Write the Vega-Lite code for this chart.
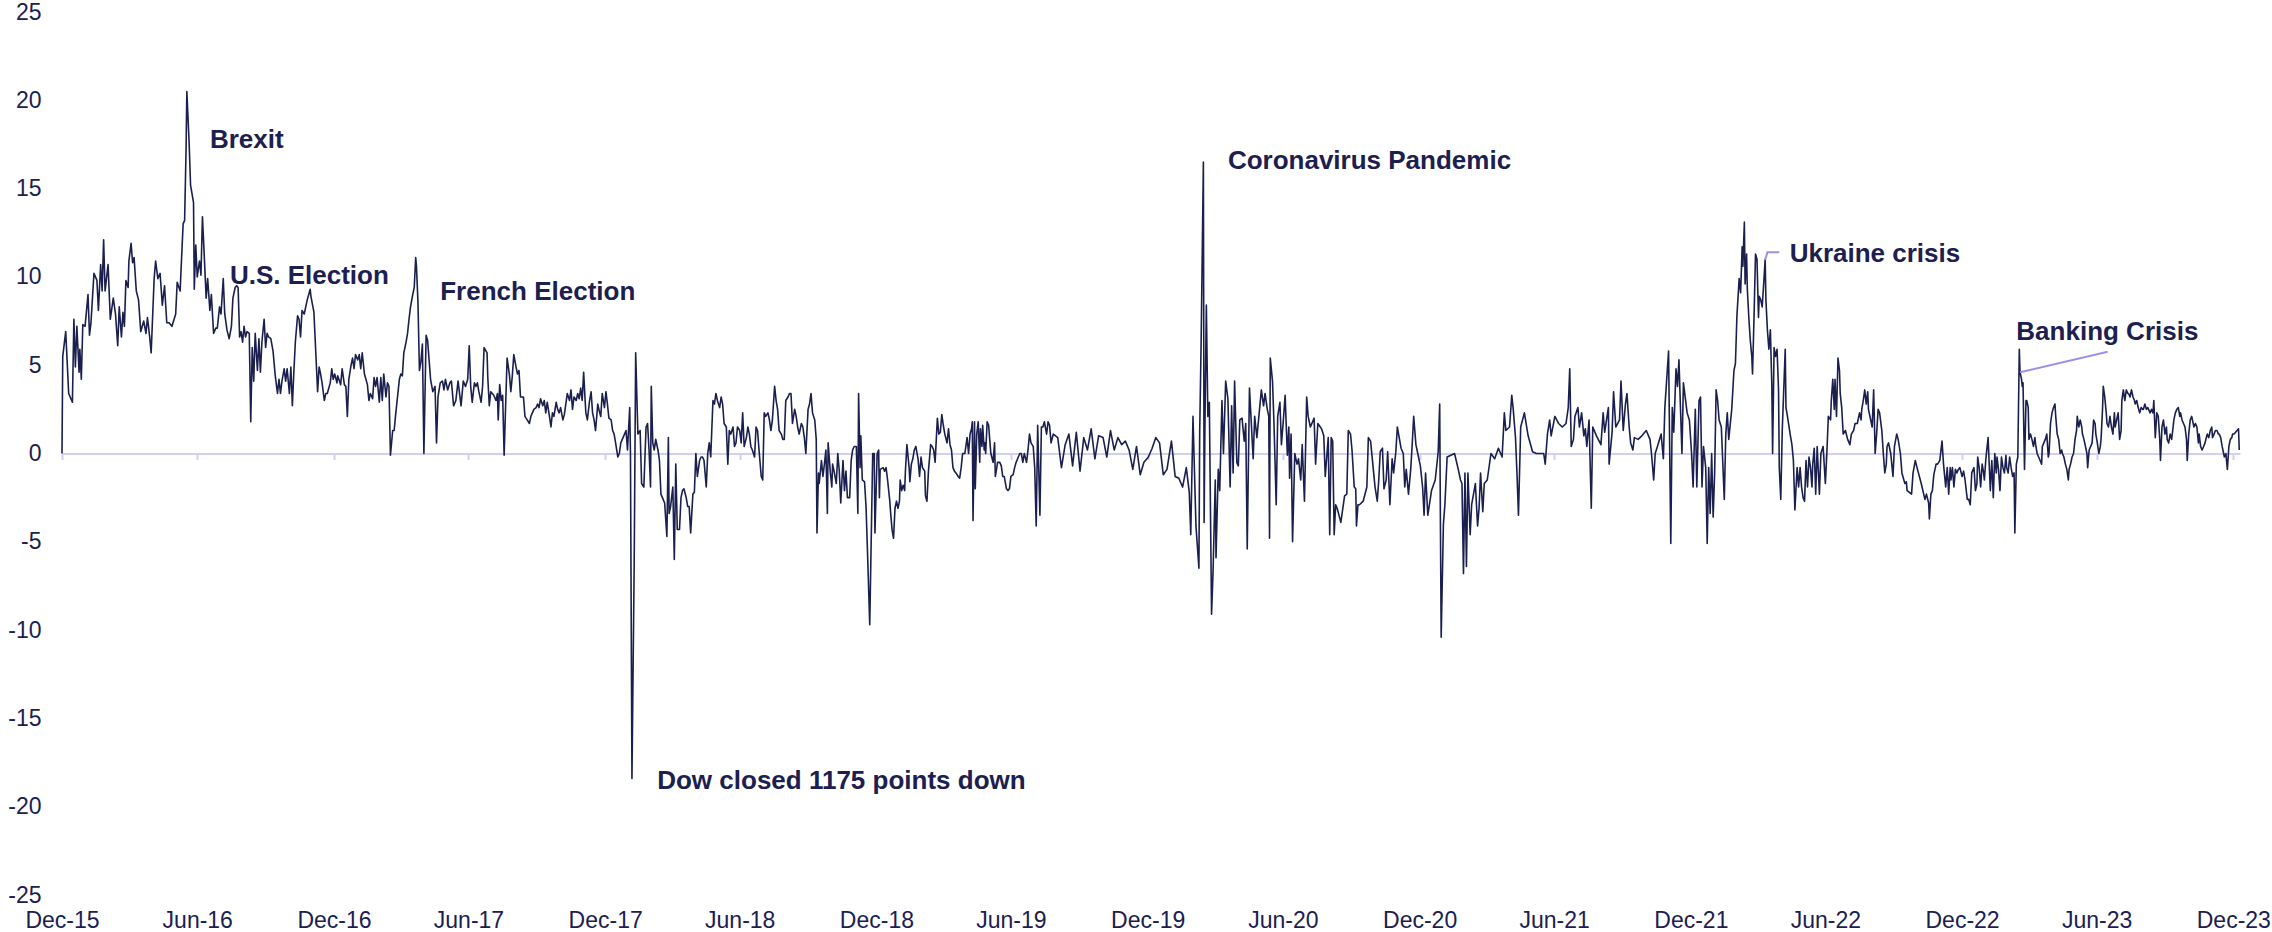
{
"$schema": "https://vega.github.io/schema/vega-lite/v6.json",
"width": 2178, "height": 883,
"autosize": {"type": "none"},
"padding": {"left": 62, "top": 12, "right": 32, "bottom": 37},
"background": "white",
"config": {"view": {"stroke": null}, "font": "Liberation Sans"},
"datasets": {
"series": [
{"d":"2015-12-31","v":0},{"d":"2016-01-01","v":5.5},{"d":"2016-01-05","v":6.9},{"d":"2016-01-09","v":3.4},{"d":"2016-01-14","v":2.9},{"d":"2016-01-16","v":7.6},{"d":"2016-01-18","v":4.9},{"d":"2016-01-20","v":7.2},{"d":"2016-01-23","v":4.6},{"d":"2016-01-24","v":5.9},{"d":"2016-01-26","v":4.2},{"d":"2016-01-28","v":7.3},{"d":"2016-01-31","v":7.2},
{"d":"2016-02-04","v":9.0},{"d":"2016-02-06","v":6.7},{"d":"2016-02-08","v":7.4},{"d":"2016-02-12","v":10.2},{"d":"2016-02-16","v":9.8},{"d":"2016-02-18","v":8.1},{"d":"2016-02-21","v":10.7},{"d":"2016-02-23","v":9.2},{"d":"2016-02-25","v":12.1},{"d":"2016-02-27","v":9.2},
{"d":"2016-03-02","v":10.7},{"d":"2016-03-05","v":7.6},{"d":"2016-03-09","v":8.8},{"d":"2016-03-12","v":7.9},{"d":"2016-03-15","v":6.1},{"d":"2016-03-17","v":8.3},{"d":"2016-03-20","v":6.6},{"d":"2016-03-22","v":8.0},{"d":"2016-03-24","v":7.2},{"d":"2016-03-26","v":9.8},{"d":"2016-03-29","v":9.4},{"d":"2016-03-30","v":10.9},
{"d":"2016-04-02","v":11.9},{"d":"2016-04-04","v":10.8},{"d":"2016-04-06","v":11.1},{"d":"2016-04-09","v":9.2},{"d":"2016-04-12","v":8.7},{"d":"2016-04-15","v":6.9},{"d":"2016-04-19","v":7.5},{"d":"2016-04-22","v":6.8},{"d":"2016-04-24","v":7.7},{"d":"2016-04-27","v":6.6},{"d":"2016-04-29","v":5.7},
{"d":"2016-05-03","v":9.9},{"d":"2016-05-05","v":10.9},{"d":"2016-05-08","v":9.9},{"d":"2016-05-11","v":10.2},{"d":"2016-05-14","v":8.4},{"d":"2016-05-17","v":9.5},{"d":"2016-05-20","v":7.4},{"d":"2016-05-23","v":7.4},{"d":"2016-05-27","v":7.2},
{"d":"2016-06-01","v":7.9},{"d":"2016-06-03","v":9.7},{"d":"2016-06-07","v":9.2},{"d":"2016-06-08","v":10.2},{"d":"2016-06-11","v":13.0},{"d":"2016-06-13","v":13.2},{"d":"2016-06-15","v":17.3},{"d":"2016-06-16","v":20.5},{"d":"2016-06-19","v":17.7},{"d":"2016-06-21","v":15.2},{"d":"2016-06-25","v":14.2},{"d":"2016-06-26","v":9.3},{"d":"2016-06-28","v":11.8},{"d":"2016-06-30","v":10.0},
{"d":"2016-07-03","v":10.9},{"d":"2016-07-05","v":10.1},{"d":"2016-07-07","v":13.4},{"d":"2016-07-09","v":11.6},{"d":"2016-07-12","v":8.8},{"d":"2016-07-14","v":9.9},{"d":"2016-07-17","v":8.1},{"d":"2016-07-19","v":9.0},{"d":"2016-07-22","v":6.8},{"d":"2016-07-25","v":7.1},{"d":"2016-07-27","v":7.1},{"d":"2016-07-30","v":8.3},
{"d":"2016-08-01","v":7.9},{"d":"2016-08-04","v":9.9},{"d":"2016-08-06","v":7.9},{"d":"2016-08-09","v":7.0},{"d":"2016-08-12","v":6.5},{"d":"2016-08-15","v":7.2},{"d":"2016-08-17","v":8.8},{"d":"2016-08-20","v":9.4},{"d":"2016-08-22","v":9.5},{"d":"2016-08-24","v":9.4},{"d":"2016-08-26","v":6.6},{"d":"2016-08-28","v":6.9},{"d":"2016-08-30","v":6.3},
{"d":"2016-09-01","v":7.2},{"d":"2016-09-03","v":6.6},{"d":"2016-09-05","v":6.9},{"d":"2016-09-08","v":6.8},{"d":"2016-09-10","v":1.8},{"d":"2016-09-12","v":6.0},{"d":"2016-09-14","v":4.1},{"d":"2016-09-16","v":6.8},{"d":"2016-09-19","v":4.7},{"d":"2016-09-21","v":6.5},{"d":"2016-09-23","v":4.6},{"d":"2016-09-25","v":6.3},{"d":"2016-09-28","v":7.6},{"d":"2016-09-30","v":6.0},
{"d":"2016-10-02","v":6.8},{"d":"2016-10-04","v":6.6},{"d":"2016-10-07","v":6.5},{"d":"2016-10-10","v":5.8},{"d":"2016-10-13","v":4.4},{"d":"2016-10-16","v":3.4},{"d":"2016-10-18","v":4.2},{"d":"2016-10-20","v":3.4},{"d":"2016-10-22","v":4.1},{"d":"2016-10-25","v":4.8},{"d":"2016-10-27","v":4.1},{"d":"2016-10-29","v":4.8},
{"d":"2016-11-01","v":3.4},{"d":"2016-11-03","v":4.9},{"d":"2016-11-05","v":2.7},{"d":"2016-11-07","v":4.6},{"d":"2016-11-09","v":6.3},{"d":"2016-11-12","v":7.8},{"d":"2016-11-14","v":7.6},{"d":"2016-11-16","v":6.6},{"d":"2016-11-18","v":8.1},{"d":"2016-11-21","v":7.9},{"d":"2016-11-23","v":8.3},{"d":"2016-11-25","v":8.7},{"d":"2016-11-29","v":9.3},{"d":"2016-11-30","v":8.9},
{"d":"2016-12-04","v":8.0},{"d":"2016-12-09","v":3.5},{"d":"2016-12-11","v":4.9},{"d":"2016-12-13","v":4.5},{"d":"2016-12-15","v":4.0},{"d":"2016-12-18","v":3.0},{"d":"2016-12-20","v":3.4},{"d":"2016-12-22","v":3.4},{"d":"2016-12-26","v":4.0},{"d":"2016-12-28","v":4.8},{"d":"2016-12-30","v":4.2},
{"d":"2017-01-01","v":4.5},{"d":"2017-01-04","v":4.0},{"d":"2017-01-05","v":4.4},{"d":"2017-01-09","v":3.9},{"d":"2017-01-11","v":4.8},{"d":"2017-01-14","v":3.9},{"d":"2017-01-16","v":3.8},{"d":"2017-01-18","v":2.1},{"d":"2017-01-20","v":4.2},{"d":"2017-01-23","v":5.0},{"d":"2017-01-25","v":5.4},{"d":"2017-01-27","v":4.8},{"d":"2017-01-29","v":5.6},
{"d":"2017-02-01","v":5.3},{"d":"2017-02-03","v":5.6},{"d":"2017-02-05","v":4.8},{"d":"2017-02-07","v":5.7},{"d":"2017-02-10","v":4.5},{"d":"2017-02-12","v":4.2},{"d":"2017-02-14","v":3.9},{"d":"2017-02-16","v":3.0},{"d":"2017-02-18","v":3.4},{"d":"2017-02-21","v":3.1},{"d":"2017-02-23","v":4.3},{"d":"2017-02-25","v":3.8},{"d":"2017-02-27","v":4.3},
{"d":"2017-03-02","v":2.9},{"d":"2017-03-04","v":4.3},{"d":"2017-03-06","v":3.0},{"d":"2017-03-08","v":4.5},{"d":"2017-03-11","v":3.2},{"d":"2017-03-13","v":4.0},{"d":"2017-03-15","v":3.8},{"d":"2017-03-17","v":-0.1},{"d":"2017-03-20","v":1.3},{"d":"2017-03-22","v":1.3},{"d":"2017-03-24","v":2.2},{"d":"2017-03-26","v":3.0},{"d":"2017-03-29","v":4.2},{"d":"2017-03-31","v":4.5},
{"d":"2017-04-02","v":4.4},{"d":"2017-04-04","v":5.7},{"d":"2017-04-07","v":6.3},{"d":"2017-04-09","v":6.8},{"d":"2017-04-11","v":7.6},{"d":"2017-04-13","v":8.3},{"d":"2017-04-16","v":9.0},{"d":"2017-04-18","v":9.4},{"d":"2017-04-20","v":11.1},{"d":"2017-04-21","v":10.6},{"d":"2017-04-23","v":8.6},{"d":"2017-04-25","v":4.7},{"d":"2017-04-27","v":5.2},{"d":"2017-04-29","v":6.2},
{"d":"2017-05-01","v":0.0},{"d":"2017-05-04","v":6.7},{"d":"2017-05-06","v":6.4},{"d":"2017-05-10","v":4.2},{"d":"2017-05-13","v":3.5},{"d":"2017-05-16","v":3.8},{"d":"2017-05-18","v":0.6},{"d":"2017-05-20","v":3.2},{"d":"2017-05-23","v":4.0},{"d":"2017-05-26","v":4.1},{"d":"2017-05-28","v":3.6},{"d":"2017-05-30","v":4.2},
{"d":"2017-06-02","v":3.6},{"d":"2017-06-05","v":4.0},{"d":"2017-06-07","v":4.1},{"d":"2017-06-10","v":2.7},{"d":"2017-06-13","v":3.0},{"d":"2017-06-16","v":4.1},{"d":"2017-06-20","v":2.7},{"d":"2017-06-23","v":4.1},{"d":"2017-06-26","v":3.8},{"d":"2017-06-29","v":4.2},
{"d":"2017-07-01","v":6.1},{"d":"2017-07-03","v":3.8},{"d":"2017-07-05","v":2.9},{"d":"2017-07-08","v":4.0},{"d":"2017-07-10","v":3.8},{"d":"2017-07-12","v":4.0},{"d":"2017-07-14","v":3.5},{"d":"2017-07-17","v":2.9},{"d":"2017-07-19","v":3.8},{"d":"2017-07-21","v":6.0},{"d":"2017-07-25","v":5.7},{"d":"2017-07-26","v":4.3},{"d":"2017-07-28","v":2.7},{"d":"2017-07-30","v":3.5},
{"d":"2017-08-01","v":3.4},{"d":"2017-08-03","v":3.3},{"d":"2017-08-06","v":3.0},{"d":"2017-08-08","v":3.4},{"d":"2017-08-09","v":1.9},{"d":"2017-08-11","v":3.9},{"d":"2017-08-13","v":3.0},{"d":"2017-08-15","v":3.3},{"d":"2017-08-17","v":-0.1},{"d":"2017-08-19","v":2.7},{"d":"2017-08-21","v":5.4},{"d":"2017-08-24","v":4.5},{"d":"2017-08-26","v":3.5},{"d":"2017-08-28","v":4.4},{"d":"2017-08-30","v":5.6},
{"d":"2017-09-02","v":4.9},{"d":"2017-09-04","v":4.5},{"d":"2017-09-06","v":4.7},{"d":"2017-09-08","v":3.2},{"d":"2017-09-12","v":3.2},{"d":"2017-09-14","v":2.1},{"d":"2017-09-17","v":1.9},{"d":"2017-09-20","v":1.7},{"d":"2017-09-22","v":2.1},{"d":"2017-09-24","v":2.3},{"d":"2017-09-26","v":2.5},{"d":"2017-09-29","v":2.6},
{"d":"2017-10-01","v":2.8},{"d":"2017-10-03","v":2.6},{"d":"2017-10-05","v":3.1},{"d":"2017-10-08","v":2.7},{"d":"2017-10-10","v":3.0},{"d":"2017-10-12","v":2.3},{"d":"2017-10-14","v":2.9},{"d":"2017-10-17","v":2.1},{"d":"2017-10-19","v":1.5},{"d":"2017-10-21","v":2.3},{"d":"2017-10-23","v":2.1},{"d":"2017-10-26","v":2.9},{"d":"2017-10-28","v":2.5},{"d":"2017-10-30","v":2.3},
{"d":"2017-11-01","v":2.6},{"d":"2017-11-04","v":1.9},{"d":"2017-11-06","v":2.2},{"d":"2017-11-08","v":2.8},{"d":"2017-11-10","v":3.4},{"d":"2017-11-13","v":3.0},{"d":"2017-11-15","v":3.6},{"d":"2017-11-17","v":2.5},{"d":"2017-11-19","v":3.2},{"d":"2017-11-22","v":3.0},{"d":"2017-11-24","v":3.4},{"d":"2017-11-26","v":3.1},{"d":"2017-11-28","v":3.7},{"d":"2017-11-30","v":3.0},
{"d":"2017-12-02","v":4.6},{"d":"2017-12-04","v":3.0},{"d":"2017-12-05","v":2.3},{"d":"2017-12-07","v":1.9},{"d":"2017-12-10","v":3.0},{"d":"2017-12-12","v":3.5},{"d":"2017-12-14","v":2.3},{"d":"2017-12-16","v":1.9},{"d":"2017-12-18","v":1.3},{"d":"2017-12-21","v":2.8},{"d":"2017-12-23","v":2.4},{"d":"2017-12-25","v":2.1},{"d":"2017-12-27","v":3.4},{"d":"2017-12-30","v":2.6},
{"d":"2018-01-01","v":3.5},{"d":"2018-01-03","v":2.8},{"d":"2018-01-05","v":2.0},{"d":"2018-01-08","v":1.9},{"d":"2018-01-10","v":1.3},{"d":"2018-01-12","v":1.1},{"d":"2018-01-14","v":0.6},{"d":"2018-01-17","v":-0.2},{"d":"2018-01-19","v":0.0},{"d":"2018-01-21","v":0.6},{"d":"2018-01-23","v":0.8},{"d":"2018-01-26","v":1.1},{"d":"2018-01-28","v":1.3},{"d":"2018-01-30","v":0.2},
{"d":"2018-02-02","v":2.6},{"d":"2018-02-03","v":0.0},{"d":"2018-02-05","v":-18.4},{"d":"2018-02-08","v":-6.3},{"d":"2018-02-10","v":5.7},{"d":"2018-02-13","v":1.1},{"d":"2018-02-16","v":1.3},{"d":"2018-02-18","v":-1.7},{"d":"2018-02-21","v":-1.9},{"d":"2018-02-24","v":1.5},{"d":"2018-02-26","v":1.7},{"d":"2018-02-28","v":0.2},
{"d":"2018-03-02","v":-1.9},{"d":"2018-03-03","v":3.8},{"d":"2018-03-05","v":0.6},{"d":"2018-03-07","v":0.2},{"d":"2018-03-09","v":0.8},{"d":"2018-03-12","v":0.2},{"d":"2018-03-14","v":-0.4},{"d":"2018-03-16","v":-2.3},{"d":"2018-03-18","v":-2.5},{"d":"2018-03-21","v":-2.8},{"d":"2018-03-24","v":-4.7},{"d":"2018-03-26","v":0.9},{"d":"2018-03-27","v":-3.4},{"d":"2018-03-29","v":-3.0},
{"d":"2018-04-01","v":-1.9},{"d":"2018-04-03","v":-6.0},{"d":"2018-04-05","v":-0.6},{"d":"2018-04-07","v":-4.3},{"d":"2018-04-10","v":-4.3},{"d":"2018-04-12","v":-2.5},{"d":"2018-04-14","v":-2.1},{"d":"2018-04-16","v":-2.0},{"d":"2018-04-19","v":-2.5},{"d":"2018-04-21","v":-3.0},{"d":"2018-04-23","v":-3.0},{"d":"2018-04-25","v":-4.5},{"d":"2018-04-28","v":-2.3},{"d":"2018-04-30","v":-2.2},
{"d":"2018-05-02","v":0.0},{"d":"2018-05-04","v":-1.3},{"d":"2018-05-07","v":-0.4},{"d":"2018-05-09","v":-0.2},{"d":"2018-05-11","v":-0.2},{"d":"2018-05-13","v":-0.4},{"d":"2018-05-16","v":-1.9},{"d":"2018-05-18","v":0.0},{"d":"2018-05-20","v":0.6},{"d":"2018-05-22","v":-0.2},{"d":"2018-05-25","v":3.0},{"d":"2018-05-27","v":2.8},{"d":"2018-05-29","v":3.4},{"d":"2018-05-31","v":3.0},
{"d":"2018-06-03","v":2.6},{"d":"2018-06-05","v":3.2},{"d":"2018-06-07","v":2.8},{"d":"2018-06-09","v":1.7},{"d":"2018-06-12","v":1.5},{"d":"2018-06-14","v":-0.6},{"d":"2018-06-16","v":1.3},{"d":"2018-06-18","v":1.1},{"d":"2018-06-21","v":1.5},{"d":"2018-06-23","v":0.4},{"d":"2018-06-25","v":0.6},{"d":"2018-06-27","v":1.5},{"d":"2018-06-30","v":1.3},
{"d":"2018-07-02","v":0.6},{"d":"2018-07-04","v":2.3},{"d":"2018-07-06","v":0.4},{"d":"2018-07-09","v":0.9},{"d":"2018-07-11","v":1.5},{"d":"2018-07-13","v":1.1},{"d":"2018-07-15","v":0.4},{"d":"2018-07-17","v":0.2},{"d":"2018-07-20","v":-0.2},{"d":"2018-07-22","v":1.5},{"d":"2018-07-24","v":1.3},{"d":"2018-07-26","v":0.2},{"d":"2018-07-29","v":-1.3},{"d":"2018-07-31","v":-1.5},
{"d":"2018-08-02","v":2.3},{"d":"2018-08-04","v":2.1},{"d":"2018-08-07","v":2.3},{"d":"2018-08-09","v":1.9},{"d":"2018-08-11","v":1.3},{"d":"2018-08-13","v":1.9},{"d":"2018-08-16","v":3.8},{"d":"2018-08-18","v":3.0},{"d":"2018-08-20","v":2.5},{"d":"2018-08-22","v":1.3},{"d":"2018-08-25","v":1.1},{"d":"2018-08-27","v":0.8},{"d":"2018-08-29","v":0.8},{"d":"2018-08-31","v":3.0},
{"d":"2018-09-03","v":3.2},{"d":"2018-09-05","v":3.4},{"d":"2018-09-07","v":3.4},{"d":"2018-09-09","v":1.7},{"d":"2018-09-12","v":2.5},{"d":"2018-09-14","v":2.1},{"d":"2018-09-16","v":1.5},{"d":"2018-09-18","v":1.1},{"d":"2018-09-21","v":1.7},{"d":"2018-09-23","v":1.5},{"d":"2018-09-25","v":0.9},{"d":"2018-09-27","v":0.0},{"d":"2018-09-30","v":2.5},
{"d":"2018-10-02","v":2.8},{"d":"2018-10-04","v":3.4},{"d":"2018-10-06","v":2.3},{"d":"2018-10-09","v":1.9},{"d":"2018-10-11","v":0.8},{"d":"2018-10-12","v":-4.5},{"d":"2018-10-14","v":-1.1},{"d":"2018-10-15","v":-1.7},{"d":"2018-10-18","v":-0.4},{"d":"2018-10-20","v":-1.3},{"d":"2018-10-22","v":-0.6},{"d":"2018-10-24","v":0.2},{"d":"2018-10-26","v":-3.4},{"d":"2018-10-27","v":0.6},{"d":"2018-10-30","v":-1.1},
{"d":"2018-11-01","v":-1.9},{"d":"2018-11-02","v":-0.6},{"d":"2018-11-04","v":-1.0},{"d":"2018-11-07","v":-1.7},{"d":"2018-11-09","v":0.0},{"d":"2018-11-11","v":-1.0},{"d":"2018-11-13","v":-2.8},{"d":"2018-11-16","v":-0.4},{"d":"2018-11-18","v":-2.1},{"d":"2018-11-20","v":-1.0},{"d":"2018-11-22","v":-2.5},{"d":"2018-11-25","v":-2.5},{"d":"2018-11-27","v":-0.4},{"d":"2018-11-29","v":0.2},
{"d":"2018-12-01","v":0.4},{"d":"2018-12-04","v":0.4},{"d":"2018-12-06","v":-3.4},{"d":"2018-12-07","v":3.4},{"d":"2018-12-09","v":-0.8},{"d":"2018-12-10","v":1.0},{"d":"2018-12-12","v":-1.5},{"d":"2018-12-15","v":-1.6},{"d":"2018-12-17","v":-3.0},{"d":"2018-12-19","v":-5.6},{"d":"2018-12-22","v":-9.7},{"d":"2018-12-26","v":0.0},{"d":"2018-12-28","v":0.0},{"d":"2018-12-29","v":-4.5},
{"d":"2019-01-01","v":0.0},{"d":"2019-01-03","v":0.2},{"d":"2019-01-04","v":-2.5},{"d":"2019-01-05","v":-0.9},{"d":"2019-01-09","v":-0.8},{"d":"2019-01-11","v":-1.0},{"d":"2019-01-13","v":-0.8},{"d":"2019-01-15","v":-1.5},{"d":"2019-01-18","v":-2.7},{"d":"2019-01-19","v":-3.3},{"d":"2019-01-21","v":-4.3},{"d":"2019-01-23","v":-4.8},{"d":"2019-01-25","v":-3.1},{"d":"2019-01-27","v":-2.7},{"d":"2019-01-29","v":-3.1},{"d":"2019-01-31","v":-2.7},
{"d":"2019-02-01","v":-1.5},{"d":"2019-02-03","v":-2.1},{"d":"2019-02-05","v":-1.8},{"d":"2019-02-07","v":-2.1},{"d":"2019-02-08","v":-1.0},{"d":"2019-02-10","v":0.5},{"d":"2019-02-13","v":-0.8},{"d":"2019-02-14","v":-1.6},{"d":"2019-02-16","v":-0.6},{"d":"2019-02-18","v":-0.3},{"d":"2019-02-20","v":0.2},{"d":"2019-02-22","v":0.4},{"d":"2019-02-25","v":-0.3},{"d":"2019-02-27","v":-1.3},
{"d":"2019-03-01","v":-0.2},{"d":"2019-03-03","v":-0.8},{"d":"2019-03-06","v":-1.0},{"d":"2019-03-07","v":-2.4},{"d":"2019-03-09","v":-2.7},{"d":"2019-03-11","v":-1.0},{"d":"2019-03-14","v":0.5},{"d":"2019-03-16","v":0.4},{"d":"2019-03-18","v":0.2},{"d":"2019-03-20","v":-0.5},{"d":"2019-03-23","v":2.0},{"d":"2019-03-25","v":1.1},{"d":"2019-03-27","v":1.2},{"d":"2019-03-29","v":2.2},{"d":"2019-03-31","v":1.6},
{"d":"2019-04-02","v":1.1},{"d":"2019-04-05","v":0.6},{"d":"2019-04-07","v":1.4},{"d":"2019-04-09","v":0.5},{"d":"2019-04-11","v":0.2},{"d":"2019-04-13","v":-0.8},{"d":"2019-04-15","v":-1.0},{"d":"2019-04-17","v":-1.1},{"d":"2019-04-20","v":-1.3},{"d":"2019-04-22","v":-1.4},{"d":"2019-04-24","v":-0.8},{"d":"2019-04-26","v":0.0},{"d":"2019-04-29","v":0.0},
{"d":"2019-05-02","v":0.9},{"d":"2019-05-04","v":0.0},{"d":"2019-05-06","v":1.1},{"d":"2019-05-08","v":1.4},{"d":"2019-05-09","v":1.8},{"d":"2019-05-10","v":-3.8},{"d":"2019-05-12","v":1.8},{"d":"2019-05-13","v":-2.0},{"d":"2019-05-15","v":1.1},{"d":"2019-05-17","v":1.8},{"d":"2019-05-19","v":-0.5},{"d":"2019-05-20","v":1.4},{"d":"2019-05-22","v":0.4},{"d":"2019-05-23","v":1.6},{"d":"2019-05-25","v":0.2},{"d":"2019-05-26","v":0.6},{"d":"2019-05-27","v":0.0},{"d":"2019-05-29","v":1.8},{"d":"2019-05-31","v":1.6},
{"d":"2019-06-02","v":0.5},{"d":"2019-06-03","v":0.0},{"d":"2019-06-06","v":-0.5},{"d":"2019-06-08","v":0.6},{"d":"2019-06-09","v":-1.3},{"d":"2019-06-11","v":-0.8},{"d":"2019-06-12","v":-0.5},{"d":"2019-06-15","v":-0.5},{"d":"2019-06-17","v":-0.7},{"d":"2019-06-19","v":-1.3},{"d":"2019-06-21","v":-1.3},{"d":"2019-06-24","v":-2.0},{"d":"2019-06-26","v":-2.1},{"d":"2019-06-28","v":-2.0},{"d":"2019-06-30","v":-1.3},
{"d":"2019-07-03","v":-1.2},{"d":"2019-07-05","v":-0.8},{"d":"2019-07-07","v":-0.5},{"d":"2019-07-09","v":-0.3},{"d":"2019-07-12","v":0.0},{"d":"2019-07-14","v":0.0},{"d":"2019-07-16","v":-0.5},{"d":"2019-07-18","v":0.0},{"d":"2019-07-21","v":-0.5},{"d":"2019-07-23","v":0.2},{"d":"2019-07-25","v":1.1},{"d":"2019-07-27","v":0.6},{"d":"2019-07-30","v":0.4},
{"d":"2019-08-01","v":-0.8},{"d":"2019-08-03","v":-4.1},{"d":"2019-08-05","v":1.6},{"d":"2019-08-08","v":-3.5},{"d":"2019-08-10","v":1.5},{"d":"2019-08-12","v":1.5},{"d":"2019-08-14","v":1.8},{"d":"2019-08-17","v":1.1},{"d":"2019-08-19","v":1.8},{"d":"2019-08-21","v":1.6},{"d":"2019-08-23","v":0.6},{"d":"2019-08-26","v":1.1},
{"d":"2019-09-01","v":0.9},{"d":"2019-09-06","v":-0.8},{"d":"2019-09-11","v":0.5},{"d":"2019-09-16","v":1.1},{"d":"2019-09-21","v":-0.7},{"d":"2019-09-26","v":1.2},
{"d":"2019-10-01","v":-1.0},{"d":"2019-10-06","v":0.9},{"d":"2019-10-11","v":0.2},{"d":"2019-10-16","v":1.4},{"d":"2019-10-21","v":-0.3},{"d":"2019-10-26","v":1.0},
{"d":"2019-11-01","v":0.9},{"d":"2019-11-06","v":-0.2},{"d":"2019-11-11","v":1.3},{"d":"2019-11-16","v":0.2},{"d":"2019-11-21","v":0.9},{"d":"2019-11-26","v":0.5},
{"d":"2019-12-01","v":0.7},{"d":"2019-12-06","v":0.2},{"d":"2019-12-11","v":-0.9},{"d":"2019-12-16","v":0.4},{"d":"2019-12-21","v":-1.2},{"d":"2019-12-26","v":-0.5},
{"d":"2020-01-01","v":-0.2},{"d":"2020-01-06","v":0.3},{"d":"2020-01-11","v":0.9},{"d":"2020-01-16","v":0.6},{"d":"2020-01-21","v":-1.2},{"d":"2020-01-26","v":-0.9},
{"d":"2020-02-01","v":0.7},{"d":"2020-02-06","v":-1.3},{"d":"2020-02-11","v":-1.4},{"d":"2020-02-16","v":-1.9},{"d":"2020-02-21","v":-0.8},{"d":"2020-02-25","v":-2.2},{"d":"2020-02-27","v":-4.6},
{"d":"2020-03-01","v":2.1},{"d":"2020-03-05","v":-4.1},{"d":"2020-03-09","v":-6.5},{"d":"2020-03-10","v":1.1},{"d":"2020-03-12","v":6.4},{"d":"2020-03-15","v":16.5},{"d":"2020-03-16","v":-3.9},{"d":"2020-03-17","v":1.3},{"d":"2020-03-19","v":8.4},{"d":"2020-03-21","v":2.1},{"d":"2020-03-23","v":2.9},{"d":"2020-03-26","v":-9.1},{"d":"2020-03-28","v":-6.7},{"d":"2020-03-31","v":-1.5},
{"d":"2020-04-01","v":-5.9},{"d":"2020-04-04","v":-0.9},{"d":"2020-04-06","v":-2.1},{"d":"2020-04-09","v":3.0},{"d":"2020-04-11","v":0.0},{"d":"2020-04-14","v":4.1},{"d":"2020-04-17","v":3.1},{"d":"2020-04-20","v":-1.9},{"d":"2020-04-22","v":2.7},{"d":"2020-04-24","v":-1.1},{"d":"2020-04-26","v":4.1},{"d":"2020-04-29","v":-0.5},
{"d":"2020-05-01","v":-0.7},{"d":"2020-05-03","v":1.9},{"d":"2020-05-06","v":2.0},{"d":"2020-05-09","v":0.7},{"d":"2020-05-11","v":1.7},{"d":"2020-05-13","v":-5.4},{"d":"2020-05-16","v":3.7},{"d":"2020-05-18","v":2.1},{"d":"2020-05-21","v":-0.3},{"d":"2020-05-23","v":2.1},{"d":"2020-05-26","v":0.9},
{"d":"2020-06-01","v":3.6},{"d":"2020-06-04","v":2.7},{"d":"2020-06-06","v":3.4},{"d":"2020-06-09","v":2.5},{"d":"2020-06-11","v":2.1},{"d":"2020-06-12","v":-4.8},{"d":"2020-06-13","v":5.4},{"d":"2020-06-16","v":4.1},{"d":"2020-06-18","v":1.7},{"d":"2020-06-21","v":-2.9},{"d":"2020-06-23","v":2.1},{"d":"2020-06-26","v":2.9},{"d":"2020-06-28","v":0.5},
{"d":"2020-07-01","v":2.1},{"d":"2020-07-03","v":3.3},{"d":"2020-07-06","v":-0.1},{"d":"2020-07-08","v":1.5},{"d":"2020-07-09","v":-1.4},{"d":"2020-07-11","v":1.1},{"d":"2020-07-13","v":-5.0},{"d":"2020-07-16","v":0.0},{"d":"2020-07-19","v":-0.6},{"d":"2020-07-21","v":-0.3},{"d":"2020-07-24","v":-1.5},{"d":"2020-07-26","v":0.5},{"d":"2020-07-29","v":-2.7},
{"d":"2020-08-01","v":3.2},{"d":"2020-08-03","v":2.1},{"d":"2020-08-06","v":1.5},{"d":"2020-08-11","v":2.0},{"d":"2020-08-13","v":-0.6},{"d":"2020-08-16","v":1.7},{"d":"2020-08-21","v":1.4},{"d":"2020-08-24","v":1.0},{"d":"2020-08-26","v":-1.3},{"d":"2020-08-30","v":0.9},
{"d":"2020-09-01","v":-4.6},{"d":"2020-09-03","v":0.9},{"d":"2020-09-05","v":0.7},{"d":"2020-09-07","v":-4.6},{"d":"2020-09-09","v":-2.9},{"d":"2020-09-11","v":-3.1},{"d":"2020-09-16","v":-3.9},{"d":"2020-09-21","v":-2.4},{"d":"2020-09-24","v":-2.3},{"d":"2020-09-26","v":1.3},{"d":"2020-09-29","v":1.1},
{"d":"2020-10-01","v":0.2},{"d":"2020-10-04","v":-1.9},{"d":"2020-10-06","v":-2.0},{"d":"2020-10-07","v":-4.1},{"d":"2020-10-09","v":-2.9},{"d":"2020-10-11","v":-2.9},{"d":"2020-10-16","v":-2.7},{"d":"2020-10-21","v":-1.9},{"d":"2020-10-23","v":0.9},{"d":"2020-10-26","v":0.7},
{"d":"2020-11-01","v":-1.9},{"d":"2020-11-04","v":-2.7},{"d":"2020-11-06","v":-1.5},{"d":"2020-11-08","v":0.1},{"d":"2020-11-11","v":0.3},{"d":"2020-11-13","v":-2.0},{"d":"2020-11-16","v":-1.5},{"d":"2020-11-18","v":0.1},{"d":"2020-11-21","v":-2.9},{"d":"2020-11-24","v":-0.3},{"d":"2020-11-26","v":-1.1},{"d":"2020-11-29","v":0.1},
{"d":"2020-12-01","v":1.5},{"d":"2020-12-06","v":0.3},{"d":"2020-12-09","v":0.0},{"d":"2020-12-11","v":-1.9},{"d":"2020-12-13","v":-0.9},{"d":"2020-12-16","v":-2.3},{"d":"2020-12-19","v":-0.9},{"d":"2020-12-21","v":0.5},{"d":"2020-12-23","v":2.1},{"d":"2020-12-26","v":0.5},{"d":"2020-12-29","v":-0.1},
{"d":"2021-01-01","v":-0.7},{"d":"2021-01-04","v":-1.9},{"d":"2021-01-06","v":-3.5},{"d":"2021-01-08","v":-1.1},{"d":"2021-01-10","v":-2.7},{"d":"2021-01-11","v":-3.5},{"d":"2021-01-16","v":-2.1},{"d":"2021-01-21","v":-1.5},{"d":"2021-01-25","v":0.1},{"d":"2021-01-27","v":2.8},{"d":"2021-01-28","v":-4.1},{"d":"2021-01-29","v":-10.4},
{"d":"2021-02-01","v":-4.0},{"d":"2021-02-03","v":-2.9},{"d":"2021-02-06","v":-0.2},{"d":"2021-02-11","v":-0.1},{"d":"2021-02-16","v":0.0},{"d":"2021-02-21","v":-0.9},{"d":"2021-02-24","v":-1.5},{"d":"2021-02-26","v":-1.7},{"d":"2021-02-28","v":-6.8},
{"d":"2021-03-02","v":-1.1},{"d":"2021-03-04","v":-6.4},{"d":"2021-03-06","v":-1.1},{"d":"2021-03-09","v":-4.6},{"d":"2021-03-11","v":-2.9},{"d":"2021-03-16","v":-1.7},{"d":"2021-03-19","v":-4.1},{"d":"2021-03-21","v":-3.1},{"d":"2021-03-23","v":-1.1},{"d":"2021-03-26","v":-3.3},{"d":"2021-03-28","v":-1.7},
{"d":"2021-04-01","v":-1.5},{"d":"2021-04-06","v":0.0},{"d":"2021-04-11","v":-0.3},{"d":"2021-04-16","v":0.3},{"d":"2021-04-21","v":-0.2},{"d":"2021-04-24","v":2.3},{"d":"2021-04-26","v":1.3},
{"d":"2021-05-01","v":1.5},{"d":"2021-05-04","v":3.3},{"d":"2021-05-06","v":2.5},{"d":"2021-05-09","v":0.9},{"d":"2021-05-11","v":-1.1},{"d":"2021-05-13","v":-3.5},{"d":"2021-05-16","v":1.5},{"d":"2021-05-21","v":2.3},{"d":"2021-05-26","v":1.0},
{"d":"2021-06-01","v":0.1},{"d":"2021-06-06","v":0.0},{"d":"2021-06-11","v":0.0},{"d":"2021-06-16","v":0.0},{"d":"2021-06-18","v":-0.6},{"d":"2021-06-21","v":1.1},{"d":"2021-06-24","v":1.9},{"d":"2021-06-26","v":1.0},
{"d":"2021-07-01","v":2.1},{"d":"2021-07-06","v":1.7},{"d":"2021-07-11","v":1.5},{"d":"2021-07-16","v":1.7},{"d":"2021-07-19","v":2.6},{"d":"2021-07-21","v":4.8},{"d":"2021-07-23","v":0.4},{"d":"2021-07-26","v":0.8},{"d":"2021-07-28","v":2.1},
{"d":"2021-08-01","v":2.6},{"d":"2021-08-03","v":1.5},{"d":"2021-08-06","v":2.3},{"d":"2021-08-09","v":1.0},{"d":"2021-08-11","v":1.4},{"d":"2021-08-13","v":0.4},{"d":"2021-08-16","v":1.9},{"d":"2021-08-19","v":-3.1},{"d":"2021-08-21","v":1.5},{"d":"2021-08-26","v":1.0},
{"d":"2021-09-01","v":0.5},{"d":"2021-09-04","v":2.3},{"d":"2021-09-06","v":1.2},{"d":"2021-09-11","v":2.6},{"d":"2021-09-12","v":-0.6},{"d":"2021-09-16","v":1.2},{"d":"2021-09-18","v":3.5},{"d":"2021-09-21","v":1.5},{"d":"2021-09-26","v":1.9},{"d":"2021-09-28","v":4.1},
{"d":"2021-10-01","v":1.3},{"d":"2021-10-04","v":2.8},{"d":"2021-10-06","v":3.4},{"d":"2021-10-09","v":1.5},{"d":"2021-10-11","v":0.6},{"d":"2021-10-14","v":0.2},{"d":"2021-10-16","v":0.9},{"d":"2021-10-21","v":0.8},{"d":"2021-10-26","v":1.0},
{"d":"2021-11-01","v":1.3},{"d":"2021-11-06","v":0.8},{"d":"2021-11-08","v":0.0},{"d":"2021-11-11","v":-1.5},{"d":"2021-11-13","v":0.0},{"d":"2021-11-16","v":0.4},{"d":"2021-11-21","v":1.1},{"d":"2021-11-24","v":-0.3},{"d":"2021-11-26","v":2.6},
{"d":"2021-12-01","v":5.8},{"d":"2021-12-04","v":-5.1},{"d":"2021-12-06","v":2.6},{"d":"2021-12-08","v":1.2},{"d":"2021-12-11","v":4.8},{"d":"2021-12-13","v":3.8},{"d":"2021-12-15","v":5.3},{"d":"2021-12-17","v":2.6},{"d":"2021-12-19","v":0.0},{"d":"2021-12-21","v":4.0},{"d":"2021-12-26","v":2.3},{"d":"2021-12-29","v":1.9},
{"d":"2022-01-01","v":0.0},{"d":"2022-01-03","v":-1.9},{"d":"2022-01-06","v":2.5},{"d":"2022-01-08","v":-1.9},{"d":"2022-01-11","v":3.0},{"d":"2022-01-13","v":3.2},{"d":"2022-01-15","v":-1.9},{"d":"2022-01-17","v":0.4},{"d":"2022-01-20","v":-0.8},{"d":"2022-01-22","v":-5.1},{"d":"2022-01-24","v":-0.8},{"d":"2022-01-26","v":-3.4},{"d":"2022-01-28","v":0.0},{"d":"2022-01-30","v":-3.6},
{"d":"2022-02-01","v":-1.1},{"d":"2022-02-03","v":3.6},{"d":"2022-02-05","v":3.0},{"d":"2022-02-07","v":1.9},{"d":"2022-02-10","v":1.5},{"d":"2022-02-14","v":-2.6},{"d":"2022-02-16","v":1.1},{"d":"2022-02-18","v":2.3},{"d":"2022-02-20","v":0.8},{"d":"2022-02-24","v":2.5},{"d":"2022-02-27","v":4.7},
{"d":"2022-03-01","v":5.1},{"d":"2022-03-03","v":7.8},{"d":"2022-03-06","v":9.9},{"d":"2022-03-08","v":9.1},{"d":"2022-03-10","v":11.7},{"d":"2022-03-11","v":10.6},{"d":"2022-03-13","v":13.1},{"d":"2022-03-14","v":9.6},{"d":"2022-03-16","v":11.3},{"d":"2022-03-17","v":9.3},{"d":"2022-03-19","v":7.7},{"d":"2022-03-21","v":6.4},{"d":"2022-03-23","v":5.5},{"d":"2022-03-24","v":4.5},{"d":"2022-03-26","v":7.7},{"d":"2022-03-28","v":11.3},{"d":"2022-03-30","v":11.0},
{"d":"2022-04-01","v":7.7},{"d":"2022-04-02","v":8.9},{"d":"2022-04-04","v":8.7},{"d":"2022-04-06","v":8.3},{"d":"2022-04-08","v":9.6},{"d":"2022-04-10","v":11.0},{"d":"2022-04-11","v":8.7},{"d":"2022-04-13","v":7.0},{"d":"2022-04-15","v":5.9},{"d":"2022-04-17","v":7.0},{"d":"2022-04-19","v":3.8},{"d":"2022-04-20","v":0.0},{"d":"2022-04-22","v":6.0},{"d":"2022-04-24","v":5.5},{"d":"2022-04-26","v":5.9},{"d":"2022-04-28","v":3.6},{"d":"2022-04-29","v":-0.8},
{"d":"2022-05-01","v":-2.6},{"d":"2022-05-03","v":1.3},{"d":"2022-05-07","v":5.9},{"d":"2022-05-08","v":2.6},{"d":"2022-05-10","v":2.1},{"d":"2022-05-14","v":1.0},{"d":"2022-05-16","v":0.5},{"d":"2022-05-18","v":-0.4},{"d":"2022-05-20","v":-3.2},{"d":"2022-05-23","v":-0.8},{"d":"2022-05-25","v":-1.9},{"d":"2022-05-27","v":-0.8},{"d":"2022-05-29","v":-1.9},{"d":"2022-05-31","v":-2.5},
{"d":"2022-06-02","v":-2.7},{"d":"2022-06-04","v":-0.4},{"d":"2022-06-06","v":-1.9},{"d":"2022-06-08","v":-0.2},{"d":"2022-06-10","v":-0.8},{"d":"2022-06-12","v":-1.9},{"d":"2022-06-13","v":-0.6},{"d":"2022-06-15","v":0.3},{"d":"2022-06-17","v":-2.3},{"d":"2022-06-19","v":0.4},{"d":"2022-06-22","v":-2.3},{"d":"2022-06-24","v":0.0},{"d":"2022-06-27","v":0.4},{"d":"2022-06-30","v":-1.7},
{"d":"2022-07-02","v":0.0},{"d":"2022-07-04","v":2.1},{"d":"2022-07-07","v":1.9},{"d":"2022-07-08","v":3.0},{"d":"2022-07-10","v":4.2},{"d":"2022-07-12","v":2.5},{"d":"2022-07-13","v":4.2},{"d":"2022-07-15","v":2.1},{"d":"2022-07-17","v":5.4},{"d":"2022-07-19","v":4.7},{"d":"2022-07-20","v":3.4},{"d":"2022-07-22","v":2.6},{"d":"2022-07-24","v":1.1},{"d":"2022-07-27","v":1.3},{"d":"2022-07-30","v":0.8},
{"d":"2022-08-02","v":0.5},{"d":"2022-08-04","v":1.1},{"d":"2022-08-07","v":1.3},{"d":"2022-08-09","v":1.7},{"d":"2022-08-12","v":1.7},{"d":"2022-08-15","v":2.3},{"d":"2022-08-17","v":1.9},{"d":"2022-08-18","v":2.5},{"d":"2022-08-20","v":3.0},{"d":"2022-08-22","v":3.6},{"d":"2022-08-24","v":2.8},{"d":"2022-08-26","v":3.5},{"d":"2022-08-27","v":2.5},{"d":"2022-08-31","v":1.7},
{"d":"2022-09-01","v":1.5},{"d":"2022-09-03","v":3.6},{"d":"2022-09-05","v":0.0},{"d":"2022-09-07","v":1.1},{"d":"2022-09-09","v":2.5},{"d":"2022-09-11","v":2.3},{"d":"2022-09-14","v":1.3},{"d":"2022-09-16","v":0.0},{"d":"2022-09-18","v":-1.1},{"d":"2022-09-20","v":-0.6},{"d":"2022-09-21","v":0.4},{"d":"2022-09-23","v":0.6},{"d":"2022-09-26","v":0.0},{"d":"2022-09-29","v":-1.3},
{"d":"2022-10-01","v":0.4},{"d":"2022-10-04","v":1.1},{"d":"2022-10-06","v":0.8},{"d":"2022-10-09","v":0.0},{"d":"2022-10-11","v":-1.1},{"d":"2022-10-15","v":-1.7},{"d":"2022-10-17","v":-1.6},{"d":"2022-10-18","v":-2.1},{"d":"2022-10-21","v":-2.2},{"d":"2022-10-24","v":-2.3},{"d":"2022-10-26","v":-1.1},{"d":"2022-10-29","v":-0.4},
{"d":"2022-11-01","v":-0.9},{"d":"2022-11-06","v":-1.7},{"d":"2022-11-11","v":-2.6},{"d":"2022-11-13","v":-2.3},{"d":"2022-11-16","v":-2.8},{"d":"2022-11-17","v":-3.7},{"d":"2022-11-19","v":-2.3},{"d":"2022-11-21","v":-2.1},{"d":"2022-11-23","v":-1.2},{"d":"2022-11-26","v":-0.6},{"d":"2022-11-28","v":-0.6},
{"d":"2022-12-01","v":-0.4},{"d":"2022-12-04","v":0.7},{"d":"2022-12-06","v":-0.6},{"d":"2022-12-09","v":-1.9},{"d":"2022-12-11","v":-0.8},{"d":"2022-12-13","v":-2.3},{"d":"2022-12-15","v":-0.8},{"d":"2022-12-16","v":-1.5},{"d":"2022-12-18","v":-0.8},{"d":"2022-12-20","v":-1.9},{"d":"2022-12-22","v":-0.9},{"d":"2022-12-24","v":-1.1},{"d":"2022-12-26","v":-0.9},{"d":"2022-12-28","v":-0.8},{"d":"2022-12-31","v":-1.3},
{"d":"2023-01-02","v":-1.0},{"d":"2023-01-04","v":-1.5},{"d":"2023-01-07","v":-2.6},{"d":"2023-01-09","v":-2.6},{"d":"2023-01-11","v":-2.9},{"d":"2023-01-13","v":-1.1},{"d":"2023-01-16","v":-0.8},{"d":"2023-01-18","v":-2.1},{"d":"2023-01-20","v":-1.7},{"d":"2023-01-21","v":-0.2},{"d":"2023-01-23","v":-0.8},{"d":"2023-01-25","v":-1.9},{"d":"2023-01-27","v":-0.6},{"d":"2023-01-29","v":-1.1},{"d":"2023-01-30","v":-1.5},
{"d":"2023-02-01","v":-0.3},{"d":"2023-02-04","v":0.9},{"d":"2023-02-06","v":-1.1},{"d":"2023-02-07","v":-2.1},{"d":"2023-02-09","v":-0.4},{"d":"2023-02-11","v":-2.5},{"d":"2023-02-13","v":0.0},{"d":"2023-02-15","v":-1.1},{"d":"2023-02-16","v":-0.2},{"d":"2023-02-18","v":-0.9},{"d":"2023-02-20","v":-2.1},{"d":"2023-02-22","v":-0.2},{"d":"2023-02-24","v":-0.8},{"d":"2023-02-26","v":-1.1},{"d":"2023-02-28","v":-0.1},
{"d":"2023-03-01","v":-0.8},{"d":"2023-03-03","v":-1.1},{"d":"2023-03-05","v":-0.2},{"d":"2023-03-07","v":-0.8},{"d":"2023-03-09","v":-1.3},{"d":"2023-03-11","v":-1.1},{"d":"2023-03-12","v":-4.5},{"d":"2023-03-14","v":-0.6},{"d":"2023-03-16","v":-0.2},{"d":"2023-03-18","v":5.9},{"d":"2023-03-19","v":4.6},{"d":"2023-03-21","v":4.2},{"d":"2023-03-22","v":3.8},{"d":"2023-03-23","v":4.0},{"d":"2023-03-25","v":-0.9},{"d":"2023-03-27","v":3.0},{"d":"2023-03-28","v":3.0},{"d":"2023-03-30","v":2.6},{"d":"2023-03-31","v":0.8},
{"d":"2023-04-02","v":1.1},{"d":"2023-04-04","v":0.8},{"d":"2023-04-06","v":0.4},{"d":"2023-04-08","v":0.9},{"d":"2023-04-09","v":0.5},{"d":"2023-04-11","v":0.0},{"d":"2023-04-13","v":-0.2},{"d":"2023-04-15","v":-0.4},{"d":"2023-04-17","v":-0.6},{"d":"2023-04-18","v":0.4},{"d":"2023-04-20","v":0.6},{"d":"2023-04-22","v":0.8},{"d":"2023-04-24","v":1.1},{"d":"2023-04-26","v":-0.2},{"d":"2023-04-27","v":0.0},{"d":"2023-04-29","v":1.7},
{"d":"2023-05-01","v":2.3},{"d":"2023-05-03","v":2.6},{"d":"2023-05-05","v":2.8},{"d":"2023-05-06","v":2.1},{"d":"2023-05-08","v":1.1},{"d":"2023-05-10","v":0.8},{"d":"2023-05-12","v":0.0},{"d":"2023-05-14","v":0.2},{"d":"2023-05-15","v":0.0},{"d":"2023-05-17","v":-0.2},{"d":"2023-05-19","v":-0.6},{"d":"2023-05-21","v":-0.9},{"d":"2023-05-23","v":-1.5},{"d":"2023-05-24","v":-0.9},{"d":"2023-05-26","v":-0.6},{"d":"2023-05-28","v":-0.2},{"d":"2023-05-30","v":0.0},
{"d":"2023-06-01","v":0.8},{"d":"2023-06-03","v":1.3},{"d":"2023-06-04","v":2.1},{"d":"2023-06-06","v":1.5},{"d":"2023-06-08","v":1.9},{"d":"2023-06-10","v":1.5},{"d":"2023-06-11","v":1.1},{"d":"2023-06-13","v":0.8},{"d":"2023-06-15","v":0.4},{"d":"2023-06-17","v":0.0},{"d":"2023-06-18","v":-0.8},{"d":"2023-06-20","v":0.2},{"d":"2023-06-22","v":0.4},{"d":"2023-06-24","v":0.6},{"d":"2023-06-26","v":1.9},{"d":"2023-06-28","v":1.7},{"d":"2023-06-29","v":1.1},
{"d":"2023-07-01","v":0.6},{"d":"2023-07-03","v":0.0},{"d":"2023-07-05","v":0.4},{"d":"2023-07-06","v":0.8},{"d":"2023-07-08","v":2.5},{"d":"2023-07-09","v":3.8},{"d":"2023-07-11","v":3.2},{"d":"2023-07-13","v":2.3},{"d":"2023-07-14","v":1.7},{"d":"2023-07-16","v":1.5},{"d":"2023-07-18","v":2.1},{"d":"2023-07-20","v":1.5},{"d":"2023-07-22","v":1.1},{"d":"2023-07-24","v":2.3},{"d":"2023-07-25","v":1.5},{"d":"2023-07-27","v":1.9},{"d":"2023-07-29","v":2.3},{"d":"2023-07-31","v":0.8},
{"d":"2023-08-02","v":1.3},{"d":"2023-08-03","v":3.0},{"d":"2023-08-05","v":3.6},{"d":"2023-08-07","v":3.0},{"d":"2023-08-09","v":3.6},{"d":"2023-08-11","v":3.4},{"d":"2023-08-12","v":3.4},{"d":"2023-08-14","v":3.2},{"d":"2023-08-16","v":3.6},{"d":"2023-08-18","v":3.2},{"d":"2023-08-20","v":3.0},{"d":"2023-08-21","v":2.8},{"d":"2023-08-23","v":3.0},{"d":"2023-08-25","v":2.6},{"d":"2023-08-27","v":2.3},{"d":"2023-08-29","v":2.6},{"d":"2023-08-31","v":2.5},
{"d":"2023-09-01","v":2.5},{"d":"2023-09-03","v":2.8},{"d":"2023-09-05","v":2.5},{"d":"2023-09-07","v":2.6},{"d":"2023-09-08","v":2.5},{"d":"2023-09-10","v":2.3},{"d":"2023-09-12","v":2.5},{"d":"2023-09-14","v":2.3},{"d":"2023-09-15","v":3.0},{"d":"2023-09-17","v":0.9},{"d":"2023-09-19","v":2.3},{"d":"2023-09-21","v":2.1},{"d":"2023-09-23","v":0.8},{"d":"2023-09-24","v":-0.4},{"d":"2023-09-26","v":1.5},{"d":"2023-09-28","v":1.9},{"d":"2023-09-30","v":1.1},
{"d":"2023-10-02","v":1.5},{"d":"2023-10-03","v":0.8},{"d":"2023-10-05","v":0.6},{"d":"2023-10-07","v":1.1},{"d":"2023-10-09","v":0.8},{"d":"2023-10-11","v":1.5},{"d":"2023-10-12","v":1.9},{"d":"2023-10-14","v":2.3},{"d":"2023-10-16","v":2.5},{"d":"2023-10-18","v":2.6},{"d":"2023-10-20","v":2.1},{"d":"2023-10-21","v":2.3},{"d":"2023-10-23","v":1.9},{"d":"2023-10-25","v":1.7},{"d":"2023-10-27","v":1.5},{"d":"2023-10-29","v":0.8},{"d":"2023-10-30","v":-0.4},
{"d":"2023-11-01","v":1.1},{"d":"2023-11-03","v":1.9},{"d":"2023-11-05","v":2.1},{"d":"2023-11-06","v":1.9},{"d":"2023-11-08","v":1.5},{"d":"2023-11-10","v":1.7},{"d":"2023-11-12","v":1.5},{"d":"2023-11-14","v":0.6},{"d":"2023-11-15","v":1.1},{"d":"2023-11-17","v":0.4},{"d":"2023-11-19","v":0.2},{"d":"2023-11-21","v":0.4},{"d":"2023-11-23","v":0.6},{"d":"2023-11-24","v":0.8},{"d":"2023-11-26","v":1.1},{"d":"2023-11-28","v":0.9},{"d":"2023-11-30","v":1.3},
{"d":"2023-12-02","v":1.5},{"d":"2023-12-03","v":0.9},{"d":"2023-12-05","v":1.1},{"d":"2023-12-07","v":1.3},{"d":"2023-12-09","v":1.3},{"d":"2023-12-11","v":1.1},{"d":"2023-12-12","v":1.1},{"d":"2023-12-14","v":0.9},{"d":"2023-12-16","v":0.4},{"d":"2023-12-18","v":0.0},{"d":"2023-12-19","v":-0.2},{"d":"2023-12-21","v":0.0},{"d":"2023-12-23","v":-0.9},{"d":"2023-12-25","v":0.4},{"d":"2023-12-27","v":0.8},{"d":"2023-12-29","v":0.9},{"d":"2023-12-30","v":1.1},
{"d":"2024-01-01","v":1.1},{"d":"2024-01-03","v":1.2},{"d":"2024-01-05","v":1.3},{"d":"2024-01-07","v":1.4},{"d":"2024-01-08","v":0.2}
],
"links": [
{"g":"u","o":1,"d":"2022-04-10","v":10.96},{"g":"u","o":2,"d":"2022-04-13","v":11.39},{"g":"u","o":3,"d":"2022-04-29","v":11.39},
{"g":"b","o":1,"d":"2023-03-19","v":4.6},{"g":"b","o":2,"d":"2023-07-15","v":5.76}
],
"notes": [
{"t":"Brexit","d":"2016-07-17","v":17.3},
{"t":"U.S. Election","d":"2016-08-13","v":9.6},
{"t":"French Election","d":"2017-05-23","v":8.7},
{"t":"Dow closed 1175 points down","d":"2018-03-11","v":-19.0},
{"t":"Coronavirus Pandemic","d":"2020-04-17","v":16.1},
{"t":"Ukraine crisis","d":"2022-05-13","v":10.85},
{"t":"Banking Crisis","d":"2023-03-14","v":6.4}
]
},
"layer": [
{"data": {"name": "series"},
 "mark": {"type": "line", "color": "#1b1f4e", "strokeWidth": 1.6, "strokeJoin": "round"},
 "encoding": {
  "x": {"field": "d", "type": "temporal",
   "scale": {"type": "utc", "domain": [{"year":2015,"month":12,"date":31,"utc":true},{"year":2024,"month":1,"date":9,"utc":true}]},
   "axis": {"values": [{"year":2015,"month":12,"date":31,"utc":true},{"year":2016,"month":6,"date":30,"utc":true},{"year":2016,"month":12,"date":31,"utc":true},{"year":2017,"month":6,"date":30,"utc":true},{"year":2017,"month":12,"date":31,"utc":true},{"year":2018,"month":6,"date":30,"utc":true},{"year":2018,"month":12,"date":31,"utc":true},{"year":2019,"month":6,"date":30,"utc":true},{"year":2019,"month":12,"date":31,"utc":true},{"year":2020,"month":6,"date":30,"utc":true},{"year":2020,"month":12,"date":31,"utc":true},{"year":2021,"month":6,"date":30,"utc":true},{"year":2021,"month":12,"date":31,"utc":true},{"year":2022,"month":6,"date":30,"utc":true},{"year":2022,"month":12,"date":31,"utc":true},{"year":2023,"month":6,"date":30,"utc":true},{"year":2023,"month":12,"date":31,"utc":true}],
    "labelExpr": "utcFormat(datum.value, '%b-%y')", "title": null, "grid": false,
    "offset": -441.5, "domainColor": "#d3cff3", "domainWidth": 2,
    "tickColor": "#d3cff3", "tickWidth": 2, "tickSize": 6,
    "labelPadding": 450, "labelFont": "Liberation Sans", "labelFontSize": 23, "labelColor": "#1c2050",
    "labelOverlap": false, "labelFlush": false, "labelBound": false}},
  "y": {"field": "v", "type": "quantitative",
   "scale": {"domain": [-25, 25], "nice": false, "zero": false},
   "axis": {"values": [-25,-20,-15,-10,-5,0,5,10,15,20,25], "title": null, "grid": false, "domain": false, "ticks": false,
    "labelPadding": 21, "labelFont": "Liberation Sans", "labelFontSize": 23, "labelColor": "#1c2050", "labelExpr": "'' + datum.value"}}
 }},
{"data": {"name": "links"},
 "mark": {"type": "line", "color": "#9d90e8", "strokeWidth": 2},
 "encoding": {"x": {"field": "d", "type": "temporal"}, "y": {"field": "v", "type": "quantitative"}, "detail": {"field": "g"}, "order": {"field": "o"}}},
{"data": {"name": "notes"},
 "mark": {"type": "text", "align": "left", "baseline": "alphabetic", "font": "Liberation Sans", "fontWeight": "bold", "fontSize": 26, "color": "#1c2050"},
 "encoding": {"x": {"field": "d", "type": "temporal"}, "y": {"field": "v", "type": "quantitative"}, "text": {"field": "t"}}}
]
}
